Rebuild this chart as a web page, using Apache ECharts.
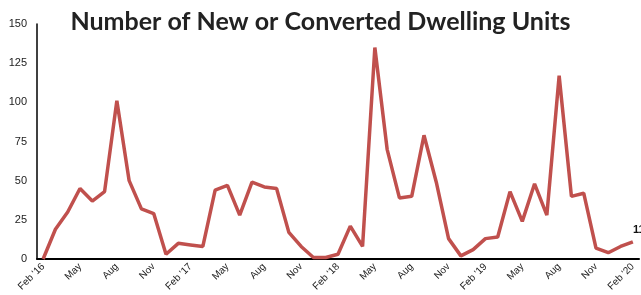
<!DOCTYPE html>
<html>
<head>
<meta charset="utf-8">
<script src="https://cdn.jsdelivr.net/npm/echarts@6/dist/echarts.min.js"></script>
<style>
    html, body { margin: 0; padding: 0; background: #fff; }
    #chart { width: 641px; height: 295px; }
</style>
</head>
<body>
<div id="chart"></div>
<script>
// months Feb '16 .. Feb '20
const months = [
    "Feb '16", 'Mar', 'Apr', 'May', 'Jun', 'Jul', 'Aug', 'Sep', 'Oct', 'Nov', 'Dec', 'Jan',
    "Feb '17", 'Mar', 'Apr', 'May', 'Jun', 'Jul', 'Aug', 'Sep', 'Oct', 'Nov', 'Dec', 'Jan',
    "Feb '18", 'Mar', 'Apr', 'May', 'Jun', 'Jul', 'Aug', 'Sep', 'Oct', 'Nov', 'Dec', 'Jan',
    "Feb '19", 'Mar', 'Apr', 'May', 'Jun', 'Jul', 'Aug', 'Sep', 'Oct', 'Nov', 'Dec', 'Jan',
    "Feb '20"
];
const units = [
    0, 19, 30, 45, 37, 43, 101, 50, 32, 29, 3, 10,
    9, 8, 44, 47, 28, 49, 46, 45, 17, 8, 1, 1,
    3, 21, 8, 135, 70, 39, 40, 79, 49, 13, 2, 6,
    13, 14, 43, 24, 48, 28, 117, 40, 42, 7, 4, 8,
    11
];
const yTicks = [0, 25, 50, 75, 100, 125, 150];

const chart = echarts.init(document.getElementById('chart'));

// only the last point gets a value label
const seriesData = units.map((v, i) => {
    if (i === units.length - 1) {
        return {
            value: v,
            label: {
                show: true,
                position: 'top',
                offset: [6, -1],
                fontWeight: 'bold',
                fontSize: 11,
                color: '#111',
                fontFamily: 'Liberation Sans, Arial, sans-serif'
            }
        };
    }
    return v;
});

chart.setOption({
    animation: false,
    title: {
        text: 'Number of New or Converted Dwelling Units',
        left: 'center',
        top: 4,
        textStyle: {
            fontFamily: 'Lato, sans-serif',
            fontWeight: 'bold',
            fontSize: 25,
            color: '#222'
        }
    },
    grid: {
        left: 37,
        right: 2,
        top: 24,
        bottom: 36,
        containLabel: false
    },
    xAxis: {
        type: 'category',
        data: months,
        boundaryGap: true,
        axisLine: { lineStyle: { color: '#000', width: 2 } },
        axisTick: { show: false },
        axisLabel: {
            interval: 2,
            rotate: 45,
            fontSize: 10,
            margin: 6,
            color: '#222',
            fontFamily: 'Liberation Sans, Arial, sans-serif'
        }
    },
    yAxis: {
        type: 'value',
        min: yTicks[0],
        max: yTicks[yTicks.length - 1],
        interval: 25,
        axisLine: { show: true, lineStyle: { color: '#000', width: 1.5 } },
        axisTick: { show: false },
        splitLine: { show: false },
        axisLabel: {
            fontSize: 11,
            margin: 10,
            color: '#222',
            fontFamily: 'Liberation Sans, Arial, sans-serif'
        }
    },
    series: [{
        type: 'line',
        data: seriesData,
        showSymbol: true,
        symbol: 'circle',
        symbolSize: 0.1,
        lineStyle: { color: '#c0504d', width: 3.5 },
        itemStyle: { color: '#c0504d' }
    }]
});
</script>
</body>
</html>
